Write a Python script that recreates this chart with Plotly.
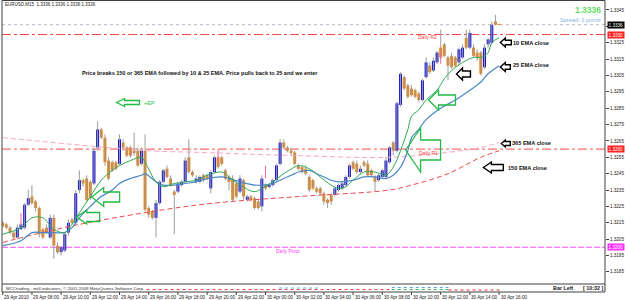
import plotly.graph_objects as go

# ---------------- data ----------------
time_labels = ["29 Apr 2010", "29 Apr 08:00", "29 Apr 10:00", "29 Apr 12:00", "29 Apr 14:00",
               "29 Apr 16:00", "29 Apr 18:00", "29 Apr 20:00", "29 Apr 22:00", "30 Apr 00:00",
               "30 Apr 02:00", "30 Apr 04:00", "30 Apr 06:00", "30 Apr 08:00", "30 Apr 10:00",
               "30 Apr 12:00", "30 Apr 14:00", "30 Apr 16:00"]
bars_per_label = 8

opens = [1.3215, 1.3214, 1.3212, 1.3209, 1.3206, 1.3211, 1.3212, 1.3226, 1.3231, 1.3228,
         1.3224, 1.3211, 1.3212, 1.3206, 1.3218, 1.3201, 1.3197, 1.3198, 1.3209, 1.3217,
         1.3215, 1.3235, 1.3241, 1.3242, 1.3240, 1.3239, 1.3261, 1.3272, 1.3267, 1.3253,
         1.3252, 1.3252, 1.3251, 1.3264, 1.3261, 1.3261, 1.3259, 1.3259, 1.3251, 1.3259,
         1.3224, 1.3222, 1.3218, 1.3227, 1.3240, 1.3248, 1.3242, 1.3234, 1.3234, 1.3238,
         1.3240, 1.3255, 1.3246, 1.3240,
         1.3240, 1.3244, 1.3244, 1.3236, 1.3246, 1.3255, 1.3255, 1.3247, 1.3243, 1.3242,
         1.3239, 1.3234, 1.3241, 1.3229, 1.3231, 1.3230, 1.3228, 1.3225, 1.3238, 1.3237,
         1.3238, 1.3241, 1.3251, 1.3264, 1.3261, 1.3259, 1.3258, 1.3250, 1.3249, 1.3248,
         1.3243, 1.3241, 1.3236, 1.3236, 1.3233, 1.3229, 1.3232, 1.3232, 1.3235, 1.3236,
         1.3238, 1.3243, 1.3252, 1.3251, 1.3246, 1.3252, 1.3251, 1.3247, 1.3243, 1.3241,
         1.3243, 1.3243, 1.3252, 1.3264, 1.3259, 1.3287, 1.3304, 1.3299, 1.3297, 1.3296,
         1.3294, 1.3290, 1.3304, 1.3311, 1.3308, 1.3313, 1.3322, 1.3324, 1.3316, 1.3317,
         1.3316, 1.3313, 1.3316, 1.3328, 1.3322, 1.3322, 1.3319, 1.3319, 1.3310, 1.3324,
         1.3325, 1.3338, 1.3336]
highs = [1.3216, 1.3215, 1.3213, 1.3210, 1.3214, 1.3215, 1.3227, 1.3235, 1.3238, 1.3229,
         1.3225, 1.3212, 1.3214, 1.3220, 1.3220, 1.3203, 1.3201, 1.3209, 1.3217, 1.3218,
         1.3235, 1.3247, 1.3242, 1.3244, 1.3241, 1.3261, 1.3277, 1.3273, 1.3269, 1.3255,
         1.3253, 1.3253, 1.3269, 1.3266, 1.3262, 1.3262, 1.3270, 1.3261, 1.3261, 1.3269,
         1.3225, 1.3223, 1.3229, 1.3241, 1.3248, 1.3250, 1.3244, 1.3235, 1.3240, 1.3241,
         1.3255, 1.3266, 1.3247, 1.3244,
         1.3244, 1.3245, 1.3245, 1.3247, 1.3256, 1.3256, 1.3256, 1.3248, 1.3244, 1.3244,
         1.3240, 1.3244, 1.3242, 1.3232, 1.3232, 1.3231, 1.3229, 1.3244, 1.3239, 1.3239,
         1.3242, 1.3251, 1.3266, 1.3266, 1.3262, 1.3261, 1.3259, 1.3251, 1.3250, 1.3250,
         1.3244, 1.3242, 1.3237, 1.3237, 1.3234, 1.3230, 1.3233, 1.3237, 1.3239, 1.3240,
         1.3244, 1.3251, 1.3253, 1.3253, 1.3250, 1.3253, 1.3253, 1.3248, 1.3244, 1.3245,
         1.3248, 1.3255, 1.3262, 1.3265, 1.3289, 1.3307, 1.3305, 1.3300, 1.3299, 1.3297,
         1.3295, 1.3303, 1.3316, 1.3313, 1.3316, 1.3320, 1.3333, 1.3325, 1.3317, 1.3319,
         1.3317, 1.3322, 1.3324, 1.3333, 1.3333, 1.3324, 1.3321, 1.3320, 1.3324, 1.3328,
         1.3338, 1.3342, 1.3336]
lows = [1.3212, 1.3211, 1.3208, 1.3205, 1.3205, 1.3211, 1.3211, 1.3225, 1.3226, 1.3222,
        1.3206, 1.3205, 1.3208, 1.3205, 1.3193, 1.3196, 1.3195, 1.3197, 1.3207, 1.3214,
        1.3214, 1.3233, 1.3237, 1.3228, 1.3229, 1.3238, 1.3259, 1.3266, 1.3250, 1.3241,
        1.3246, 1.3247, 1.3250, 1.3259, 1.3255, 1.3255, 1.3256, 1.3249, 1.3250, 1.3222,
        1.3218, 1.3217, 1.3206, 1.3226, 1.3239, 1.3242, 1.3237, 1.3208, 1.3233, 1.3237,
        1.3239, 1.3245, 1.3243, 1.3239,
        1.3239, 1.3240, 1.3241, 1.3233, 1.3245, 1.3248, 1.3250, 1.3241, 1.3235, 1.3228,
        1.3230, 1.3233, 1.3229, 1.3228, 1.3228, 1.3223, 1.3223, 1.3222, 1.3235, 1.3236,
        1.3237, 1.3240, 1.3250, 1.3260, 1.3258, 1.3256, 1.3250, 1.3247, 1.3245, 1.3244,
        1.3234, 1.3235, 1.3233, 1.3232, 1.3226, 1.3224, 1.3226, 1.3231, 1.3234, 1.3235,
        1.3237, 1.3242, 1.3247, 1.3245, 1.3245, 1.3249, 1.3243, 1.3243, 1.3234, 1.3240,
        1.3242, 1.3242, 1.3251, 1.3256, 1.3258, 1.3286, 1.3296, 1.3291, 1.3292, 1.3291,
        1.3289, 1.3289, 1.3303, 1.3306, 1.3307, 1.3312, 1.3315, 1.3316, 1.3302, 1.3309,
        1.3310, 1.3311, 1.3315, 1.3321, 1.3321, 1.3316, 1.3314, 1.3305, 1.3309, 1.3322,
        1.3324, 1.3336, 1.3336]
closes = [1.3213, 1.3212, 1.3209, 1.3206, 1.3212, 1.3214, 1.3226, 1.3230, 1.3227, 1.3224,
          1.3208, 1.3206, 1.3209, 1.3218, 1.3201, 1.3197, 1.3200, 1.3208, 1.3215, 1.3215,
          1.3233, 1.3241, 1.3239, 1.3229, 1.3230, 1.3259, 1.3272, 1.3267, 1.3252, 1.3242,
          1.3247, 1.3248, 1.3266, 1.3261, 1.3256, 1.3256, 1.3258, 1.3250, 1.3259, 1.3223,
          1.3220, 1.3218, 1.3227, 1.3240, 1.3247, 1.3243, 1.3238, 1.3232, 1.3239, 1.3240,
          1.3253, 1.3246, 1.3244, 1.3242,
          1.3243, 1.3241, 1.3242, 1.3246, 1.3255, 1.3249, 1.3251, 1.3242, 1.3240, 1.3229,
          1.3231, 1.3242, 1.3231, 1.3231, 1.3229, 1.3224, 1.3224, 1.3242, 1.3236, 1.3238,
          1.3241, 1.3250, 1.3264, 1.3261, 1.3259, 1.3258, 1.3251, 1.3248, 1.3246, 1.3245,
          1.3235, 1.3236, 1.3234, 1.3233, 1.3228, 1.3227, 1.3228, 1.3236, 1.3238, 1.3239,
          1.3243, 1.3250, 1.3248, 1.3246, 1.3248, 1.3250, 1.3244, 1.3244, 1.3240, 1.3244,
          1.3247, 1.3253, 1.3261, 1.3259, 1.3288, 1.3306, 1.3297, 1.3292, 1.3293, 1.3292,
          1.3290, 1.3302, 1.3313, 1.3307, 1.3314, 1.3319, 1.3316, 1.3317, 1.3311, 1.3310,
          1.3311, 1.3321, 1.3322, 1.3322, 1.3331, 1.3317, 1.3316, 1.3306, 1.3322, 1.3327,
          1.3336, 1.3336, 1.3336]

ema10_idx = [0, 5, 8, 11, 14, 17, 19, 21, 24, 27, 30, 32, 35, 38, 39, 42, 44, 47, 50, 53,
             56, 60, 62, 65, 69, 71, 74, 77, 80, 81, 84, 87, 90, 92, 94, 96, 99, 102, 105, 107,
             109, 111, 112, 114, 116, 119, 121, 123, 126, 129, 131, 133, 134, 136]
ema10_val = [1.3208, 1.3212, 1.3218, 1.3218, 1.3211, 1.3209, 1.3214, 1.3221, 1.3231, 1.3241,
             1.3247, 1.3250, 1.3253, 1.3255, 1.3252, 1.3240, 1.3237, 1.3239, 1.3240, 1.3241,
             1.3244, 1.3246, 1.3243, 1.3238, 1.3234, 1.3236, 1.3240, 1.3245, 1.3249, 1.3250,
             1.3248, 1.3243, 1.3238, 1.3236, 1.3237, 1.3241, 1.3246, 1.3246, 1.3244, 1.3249,
             1.3259, 1.3272, 1.3280, 1.3284, 1.3290, 1.3296, 1.3303, 1.3308, 1.3313, 1.3316,
             1.3316, 1.3319, 1.3325, 1.3328]
ema25_idx = [0, 5, 8, 11, 14, 17, 19, 21, 24, 27, 30, 32, 35, 38, 39, 42, 44, 47, 50, 53,
             56, 60, 62, 65, 69, 71, 74, 77, 80, 81, 84, 87, 90, 92, 96, 99, 102, 105, 107, 109,
             111, 112, 114, 116, 120, 124, 128, 131, 133, 136]
ema25_val = [1.3201, 1.3204, 1.3209, 1.3209, 1.3209, 1.3209, 1.3212, 1.3218, 1.3225, 1.3231,
             1.3235, 1.3239, 1.3242, 1.3244, 1.3245, 1.3240, 1.3238, 1.3238, 1.3239, 1.3240,
             1.3242, 1.3243, 1.3242, 1.3240, 1.3238, 1.3238, 1.3239, 1.3242, 1.3245, 1.3246,
             1.3247, 1.3244, 1.3241, 1.3240, 1.3241, 1.3243, 1.3243, 1.3242, 1.3244, 1.3249,
             1.3259, 1.3267, 1.3272, 1.3278, 1.3285, 1.3290, 1.3296, 1.3301, 1.3306, 1.3311]
ema150_idx = [0, 21, 54, 81, 106, 112, 122, 131, 136]
ema150_val = [1.3203, 1.3214, 1.3226, 1.3231, 1.3235, 1.3238, 1.3245, 1.3255, 1.3259]
ema365_idx = [0, 40, 54, 81, 106, 122, 131, 136]
ema365_val = [1.3267, 1.3259, 1.3258, 1.3256, 1.3255, 1.3258, 1.3261, 1.3264]

level_names = ["Daily R2", "Daily R1", "Daily Pivot"]
level_values = [1.3330, 1.3260, 1.3200]
bid_price = 1.3336

signal_idx = [5, 59, 72, 120]
signal_price = [1.3217, 1.3256, 1.3246, 1.3316]

ytick_vals = [1.3185, 1.3195, 1.3205, 1.3215, 1.3225, 1.3235, 1.3245, 1.3255, 1.3265,
              1.3275, 1.3285, 1.3295, 1.3305, 1.3315, 1.3325, 1.3335, 1.3345]

# ---------------- geometry helpers (pixel -> paper) ----------------
W, H = 625, 300
L, R, T, B = 2, 607, 1, 284
FONT = "Liberation Sans, Arial, sans-serif"


def fx(px):
    return (px - L) / (R - L)


def fy(py):
    return (B - py) / (B - T)


n = len(opens)
xs = list(range(n))

BLUE = "#1a1ad0"
ORANGE = "#e8861a"
WICK = "#9c9c9c"

fig = go.Figure()

# wicks
wx, wy = [], []
for i in xs:
    wx += [i, i, None]
    wy += [lows[i], highs[i], None]
fig.add_trace(go.Scatter(x=wx, y=wy, mode="lines", line=dict(color=WICK, width=1),
                         hoverinfo="skip"))

# bodies
base = [min(o, c) for o, c in zip(opens, closes)]
hgt = [max(abs(c - o), 0.00003) for o, c in zip(opens, closes)]
cols = [BLUE if c > o else ORANGE for o, c in zip(opens, closes)]
fig.add_trace(go.Bar(x=xs, y=hgt, base=base, width=0.82,
                     marker=dict(color=cols, line=dict(width=0))))

# EMAs
fig.add_trace(go.Scatter(x=ema365_idx, y=ema365_val, mode="lines", line_shape="spline",
                         line=dict(color="#f6a6c6", width=1, dash="5px,3px")))
fig.add_trace(go.Scatter(x=ema150_idx, y=ema150_val, mode="lines", line_shape="spline",
                         line=dict(color="#ee4a4a", width=1, dash="5px,3px")))
fig.add_trace(go.Scatter(x=ema25_idx, y=ema25_val, mode="lines", line_shape="spline",
                         line=dict(color="#4a88c6", width=1.2)))
fig.add_trace(go.Scatter(x=ema10_idx, y=ema10_val, mode="lines", line_shape="spline",
                         line=dict(color="#2eaa55", width=1)))

# small green signal marks
fig.add_trace(go.Scatter(x=signal_idx, y=signal_price, mode="markers",
                         marker=dict(symbol="line-ns-open", size=9,
                                     line=dict(color="#22cc44", width=1))))

shapes = []
annotations = []

# horizontal levels
level_styles = [("#ff4a4a", "dashdot"), ("#ff4a4a", "dashdot"), ("#ff50ff", "6px,2px")]
for name, val, (col, dash) in zip(level_names, level_values, level_styles):
    shapes.append(dict(type="line", xref="paper", yref="y", x0=0, x1=1, y0=val, y1=val,
                       line=dict(color=col, width=1, dash=dash), layer="below"))
shapes.append(dict(type="line", xref="paper", yref="y", x0=0, x1=1, y0=bid_price, y1=bid_price,
                   line=dict(color="#b0b8c8", width=1, dash="dot"), layer="below"))

# level labels
annotations.append(dict(xref="paper", yref="paper", x=fx(417), y=fy(37), text=level_names[0],
                        showarrow=False, xanchor="left", yanchor="middle",
                        font=dict(size=5, color="#ff3a3a", family=FONT)))
annotations.append(dict(xref="paper", yref="paper", x=fx(418), y=fy(153), text=level_names[1],
                        showarrow=False, xanchor="left", yanchor="middle",
                        font=dict(size=5, color="#ff3a3a", family=FONT)))
annotations.append(dict(xref="paper", yref="paper", x=fx(275), y=fy(251), text=level_names[2],
                        showarrow=False, xanchor="left", yanchor="middle",
                        font=dict(size=5, color="#ff40ff", family=FONT)))

# right-axis highlighted boxes
box_specs = [(bid_price, "#000000"), (level_values[0], "#ff2020"),
             (level_values[1], "#ff2020"), (level_values[2], "#ff30ff")]
for val, bg in box_specs:
    annotations.append(dict(xref="paper", yref="y", x=fx(609), y=val, text=f"{val:.4f}",
                            showarrow=False, xanchor="left", yanchor="middle",
                            bgcolor=bg, borderpad=0.6,
                            font=dict(size=4.6, color="white", family=FONT)))

# frame
shapes.append(dict(type="rect", xref="paper", yref="paper", x0=fx(L), x1=fx(R), y0=fy(292), y1=fy(0.5),
                   line=dict(color="#404040", width=1)))
shapes.append(dict(type="line", xref="paper", yref="paper", x0=fx(L), x1=fx(R), y0=fy(284), y1=fy(284),
                   line=dict(color="#404040", width=1)))

# time axis ticks and labels
for k, lab in enumerate(time_labels):
    i = k * bars_per_label
    shapes.append(dict(type="line", xref="x", yref="paper", x0=i, x1=i, y0=fy(292), y1=fy(295),
                       line=dict(color="#404040", width=1)))
    annotations.append(dict(xref="x", yref="paper", x=i, y=fy(297.5), text=lab, showarrow=False,
                            xanchor="left", yanchor="middle", xshift=-0.5,
                            font=dict(size=4.6, color="#202020", family=FONT)))

# bottom strip
strip_dots = [(147, 392, 289.5, "#ee4444"), (280, 322, 288.0, "#66b8e8"), (393, 450, 287.5, "#5aa0e0"),
              (393, 450, 289.5, "#33bb55"), (450, 503, 290.0, "#ee3333")]
for x0, x1, yy, col in strip_dots:
    shapes.append(dict(type="line", xref="paper", yref="paper", x0=fx(x0), x1=fx(x1), y0=fy(yy), y1=fy(yy),
                       line=dict(color=col, width=1, dash="dot")))
annotations.append(dict(xref="paper", yref="paper", x=fx(4), y=fy(288), showarrow=False,
                        text="MCCtrading - mt4 indicators, © 2001-2009 MetaQuotes Software Corp.",
                        xanchor="left", yanchor="middle",
                        font=dict(size=4.4, color="#303030", family=FONT)))
annotations.append(dict(xref="paper", yref="paper", x=fx(553), y=fy(288), showarrow=False,
                        text="<b>Bar Left</b>", xanchor="left", yanchor="middle",
                        font=dict(size=5.4, color="#202020", family=FONT)))
annotations.append(dict(xref="paper", yref="paper", x=fx(583), y=fy(288), showarrow=False,
                        text="<b>[ 10:32 ]</b>", xanchor="left", yanchor="middle",
                        font=dict(size=5.4, color="#202020", family=FONT)))

# title and top-right price info
annotations.append(dict(xref="paper", yref="paper", x=fx(3), y=fy(5), showarrow=False,
                        text="EURUSD,M15  1.3336 1.3336 1.3336 1.3336", xanchor="left",
                        yanchor="middle", font=dict(size=4.5, color="#202020", family=FONT)))
annotations.append(dict(xref="paper", yref="paper", x=fx(605), y=fy(10), showarrow=False,
                        text="<b>1.3336</b>", xanchor="right", yanchor="middle",
                        font=dict(size=8.5, color="#66dd66", family=FONT)))
annotations.append(dict(xref="paper", yref="paper", x=fx(605), y=fy(19.5), showarrow=False,
                        text="Spread: 2 points", xanchor="right", yanchor="middle",
                        font=dict(size=5.6, color="#80b4e0", family=FONT)))

# comment texts
annotations.append(dict(xref="paper", yref="paper", x=fx(80), y=fy(72.5), showarrow=False,
                        text="<b>Price breaks 150 or 365 EMA followed by 10 &amp; 25 EMA. Price pulls back to 25 and we enter</b>",
                        xanchor="left", yanchor="middle",
                        font=dict(size=5.5, color="#101010", family=FONT)))
annotations.append(dict(xref="paper", yref="paper", x=fx(142), y=fy(103), showarrow=False,
                        text="+EP", xanchor="left", yanchor="middle",
                        font=dict(size=5.5, color="#22bb44", family=FONT)))
for txt, xx, yy in [("10 EMA close", 513, 43), ("25 EMA close", 513, 64.5),
                    ("365 EMA close", 512, 143), ("150 EMA close", 508, 168)]:
    annotations.append(dict(xref="paper", yref="paper", x=fx(xx), y=fy(yy), showarrow=False,
                            text=f"<b>{txt}</b>", xanchor="left", yanchor="middle",
                            font=dict(size=5.6, color="#101010", family=FONT)))


def block_arrow(tx, ty, length, head, hh, sh, color, lw):
    pts = [(tx, ty), (tx + head, ty - hh), (tx + head, ty - sh), (tx + length, ty - sh),
           (tx + length, ty + sh), (tx + head, ty + sh), (tx + head, ty + hh)]
    path = "M " + " L ".join(f"{fx(x):.5f},{fy(y):.5f}" for x, y in pts) + " Z"
    return dict(type="path", xref="paper", yref="paper", path=path,
                line=dict(color=color, width=lw), fillcolor="rgba(255,255,255,0)")


GREEN = "#22bb44"
shapes += [
    block_arrow(117, 102.5, 23, 8, 4, 2, GREEN, 1.3),
    block_arrow(92, 197, 28, 12, 9.5, 5, GREEN, 1.3),
    block_arrow(77, 217, 23, 10, 7, 4.5, GREEN, 1.3),
    block_arrow(407, 150, 35, 15, 22, 10, GREEN, 1.3),
    block_arrow(430, 100, 27, 10, 10, 5, GREEN, 1.3),
    block_arrow(502, 42.5, 11, 5, 4.5, 2.3, "#000000", 1.4),
    block_arrow(502, 67, 10, 5, 4.5, 2.3, "#000000", 1.4),
    block_arrow(458, 74, 14, 6, 6, 3, "#000000", 1.4),
    block_arrow(503, 143.5, 9, 4, 3.5, 2, "#000000", 1.4),
    block_arrow(485, 167.5, 20, 8, 5.5, 3, "#000000", 1.4),
]

x_per_px = (n - 1) / (500 - 2)
xr0 = -0.2
xr1 = xr0 + (R - L) * x_per_px
yr1 = 1.33511 - 0.0000611 * T
yr0 = 1.33511 - 0.0000611 * B

fig.update_layout(
    width=W, height=H, margin=dict(l=L, r=W - R, t=T, b=H - B),
    paper_bgcolor="white", plot_bgcolor="white", showlegend=False,
    font=dict(family=FONT),
    xaxis=dict(range=[xr0, xr1], showgrid=False, zeroline=False, showticklabels=False,
               ticks="", showline=False),
    yaxis=dict(range=[yr0, yr1], side="right", tickvals=ytick_vals,
               ticktext=[f"{v:.4f}" for v in ytick_vals], ticks="outside", ticklen=3,
               tickcolor="#404040", tickfont=dict(size=4.6, color="#202020", family=FONT),
               showgrid=False, zeroline=False, showline=False),
    shapes=shapes, annotations=annotations,
)

fig.write_html("out.html")
